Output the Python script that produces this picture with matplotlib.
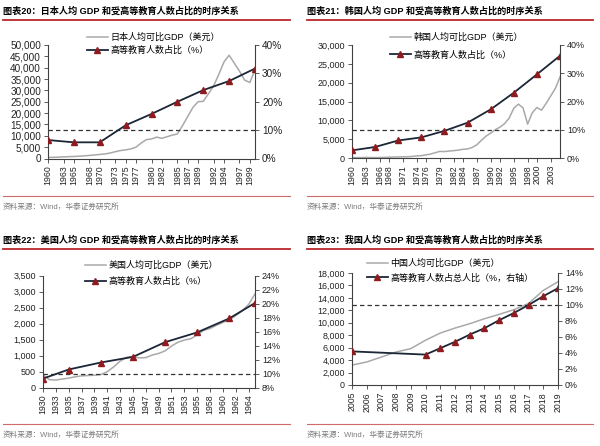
import matplotlib
matplotlib.use('Agg')
import matplotlib.pyplot as plt
from matplotlib.lines import Line2D
from matplotlib.ticker import FuncFormatter

plt.rcParams['font.family'] = ['Liberation Sans', 'Noto Sans CJK SC']

# 图表20 日本
jp_years = list(range(1960, 2001))
jp_gdp = [450, 520, 600, 700, 800, 900, 1000, 1150, 1350, 1550,
          1800, 2000, 2400, 3000, 3500, 3800, 4200, 5000, 6800, 8300,
          8600, 9400, 8900, 9600, 10300, 10800, 14500, 18500, 22500, 25000,
          25200, 28500, 32000, 37000, 42500, 45500, 42000, 38500, 34500, 33500,
          39000]
jp_edu_years = [1960, 1965, 1970, 1975, 1980, 1985, 1990, 1995, 2000]
jp_edu = [6.5, 5.7, 5.7, 11.7, 15.7, 20.0, 24.1, 27.3, 31.7]
jp_ticks = [1960, 1963, 1965, 1968, 1970, 1973, 1975, 1977, 1980, 1982,
            1985, 1987, 1989, 1992, 1994, 1997, 1999]

# 图表21 韩国
kr_years = list(range(1960, 2006))
kr_gdp = [160, 95, 105, 145, 125, 110, 130, 160, 200, 250,
          280, 310, 330, 410, 570, 620, 830, 1050, 1400, 1750,
          1700, 1850, 1950, 2100, 2300, 2400, 2800, 3500, 4700, 5800,
          6600, 7500, 8200, 9100, 10600, 13200, 14300, 13300, 9000, 12000,
          13400, 12700, 14500, 16500, 18500, 21500]
kr_edu_years = [1960, 1965, 1970, 1975, 1980, 1985, 1990, 1995, 2000, 2005]
kr_edu = [2.7, 3.9, 6.2, 7.3, 9.6, 12.5, 17.2, 23.1, 29.6, 36.2]
kr_ticks = [1960, 1963, 1966, 1968, 1971, 1974, 1976, 1979, 1982, 1984,
            1987, 1990, 1992, 1995, 1998, 2000, 2003]

# 图表22 美国 (分类轴, 年份不连续)
us_years = [1930, 1932] + list(range(1933, 1956)) + list(range(1957, 1966))
us_gdp = [400, 250, 240, 270, 300, 340, 370, 380, 390, 410,
          500, 650, 830, 950, 980, 930, 940, 1020, 1070, 1150,
          1300, 1420, 1490, 1530, 1650, 1790, 1850, 1950, 2040, 2120,
          2250, 2400, 2600, 2930]
us_edu_years = [1930, 1935, 1940, 1945, 1950, 1955, 1961, 1965]
us_edu = [9.3, 10.6, 11.6, 12.4, 14.5, 15.9, 17.9, 20.1]

# 图表23 中国
cn_years = list(range(2005, 2020))
cn_gdp = [3200, 3700, 4500, 5300, 5850, 7200, 8350, 9150, 9850, 10650,
          11350, 12100, 13100, 15200, 16600]
cn_edu_years = [2005, 2010, 2011, 2012, 2013, 2014, 2015, 2016, 2017, 2018, 2019]
cn_edu = [4.2, 3.8, 4.6, 5.4, 6.3, 7.1, 8.1, 9.0, 10.0, 11.1, 12.1]

W, H = 600, 446
fig = plt.figure(figsize=(6, 4.46), dpi=100)

gray = '#a9a9a9'
navy = '#1b2636'
dark_red = '#8e1b1f'
red = '#b8272c'
axis_c = '#404040'


def rect(l, t, r, b):
    return [l / W, 1 - b / H, (r - l) / W, (b - t) / H]


def frame(title, x0, x1, y_top, y_foot):
    fig.text(x0 / W, 1 - y_top / H, title, fontsize=6.6, fontweight='bold',
             va='center', ha='left')
    fig.add_artist(Line2D([x0 / W, x1 / W], [1 - (y_top + 8.5) / H] * 2,
                          color=red, lw=1.3))
    fig.add_artist(Line2D([x0 / W, x1 / W], [1 - y_foot / H] * 2,
                          color='#cf6a6a', lw=0.8))
    fig.text(x0 / W, 1 - (y_foot + 11) / H, '资料来源：Wind，华泰证券研究所',
             fontsize=5.5, color='#7a7a7a', va='center', ha='left')


def panel(box, x, gdp, ex, edu, gdp_lim, gdp_step, edu_lim, edu_step, xlim,
          ticks, ticklabels, gdp_label, edu_label, leg_xy, leg_space, fs):
    ax1 = fig.add_axes(rect(*box))
    ax2 = ax1.twinx()
    l1, = ax1.plot(x, gdp, color=gray, lw=1.1, label=gdp_label)
    ax1.set_ylim(*gdp_lim)
    ax1.set_yticks(range(gdp_lim[0], gdp_lim[1] + 1, gdp_step))
    ax1.yaxis.set_major_formatter(FuncFormatter(lambda v, p: f'{v:,.0f}'))
    ax1.set_xlim(*xlim)
    ax1.set_xticks(ticks)
    ax1.set_xticklabels(ticklabels, rotation=90, fontsize=6.3)

    l2, = ax2.plot(ex, edu, color=navy, lw=1.3, marker='^', markersize=5,
                   markerfacecolor=dark_red, markeredgecolor=dark_red,
                   label=edu_label)
    ax2.axhline(10, color='#333333', lw=0.9, ls=(0, (3.5, 2.5)), zorder=1)
    ax2.set_ylim(*edu_lim)
    ax2.set_yticks(range(edu_lim[0], edu_lim[1] + 1, edu_step))
    ax2.yaxis.set_major_formatter(FuncFormatter(lambda v, p: f'{v:.0f}%'))

    for a in (ax1, ax2):
        for s in a.spines.values():
            s.set_visible(False)
        a.tick_params(direction='out', length=3, width=0.6, color=axis_c,
                      labelsize=fs, pad=2, labelcolor='#222222')
        a.patch.set_visible(False)
    ax1.spines['left'].set_visible(True)
    ax1.spines['bottom'].set_visible(True)
    ax2.spines['right'].set_visible(True)
    for s in (ax1.spines['left'], ax1.spines['bottom'], ax2.spines['right']):
        s.set_color(axis_c)
        s.set_linewidth(0.8)
    ax1.tick_params(axis='x', labelsize=6.3)

    ax2.legend(handles=[l1, l2], loc='upper left',
               bbox_to_anchor=(leg_xy[0] / W, 1 - leg_xy[1] / H),
               bbox_transform=fig.transFigure, frameon=False, fontsize=6.5,
               handlelength=2.3, handletextpad=0.3, borderpad=0,
               borderaxespad=0, labelspacing=leg_space, numpoints=1)
    return ax1, ax2


# 图表20
frame('图表20：日本人均 GDP 和受高等教育人数占比的时序关系', 3, 290, 11, 196)
panel((48, 45, 255, 158.5), jp_years, jp_gdp, jp_edu_years, jp_edu,
      (0, 50000), 5000, (0, 40), 10, (1960, 2000), jp_ticks,
      [str(t) for t in jp_ticks], '日本人均可比GDP（美元）',
      '高等教育人数占比（%）', (87, 32.5), 0.47, 7.2)

# 图表21
frame('图表21：韩国人均 GDP 和受高等教育人数占比的时序关系', 307, 593, 11, 196)
panel((352, 45, 560, 158), kr_years, kr_gdp, kr_edu_years, kr_edu,
      (0, 30000), 5000, (0, 40), 10, (1960, 2005), kr_ticks,
      [str(t) for t in kr_ticks], '韩国人均可比GDP（美元）',
      '高等教育人数占比（%）', (390, 33), 0.9, 6.5)

# 图表22
frame('图表22：美国人均 GDP 和受高等教育人数占比的时序关系', 3, 290, 240, 424)
us_idx = list(range(len(us_years)))
us_edu_idx = [us_years.index(y) for y in us_edu_years]
panel((43, 275.7, 255, 387.7), us_idx, us_gdp, us_edu_idx, us_edu,
      (0, 3500), 500, (8, 24), 2, (0, len(us_years) - 1),
      us_idx[::2], [str(y) for y in us_years[::2]],
      '美国人均可比GDP（美元）', '高等教育人数占比（%）', (85, 261), 0.77, 6.5)

# 图表23
frame('图表23：我国人均 GDP 和受高等教育人数占比的时序关系', 307, 593, 240, 424)
panel((352, 273, 558, 385), cn_years, cn_gdp, cn_edu_years, cn_edu,
      (0, 18000), 2000, (0, 14), 2, (2005, 2019), cn_years,
      [str(y) for y in cn_years], '中国人均可比GDP（美元）',
      '高等教育人数占总人比（%，右轴）', (367, 259), 0.57, 6.4)

plt.savefig('out.png', dpi=100)
plt.close()
